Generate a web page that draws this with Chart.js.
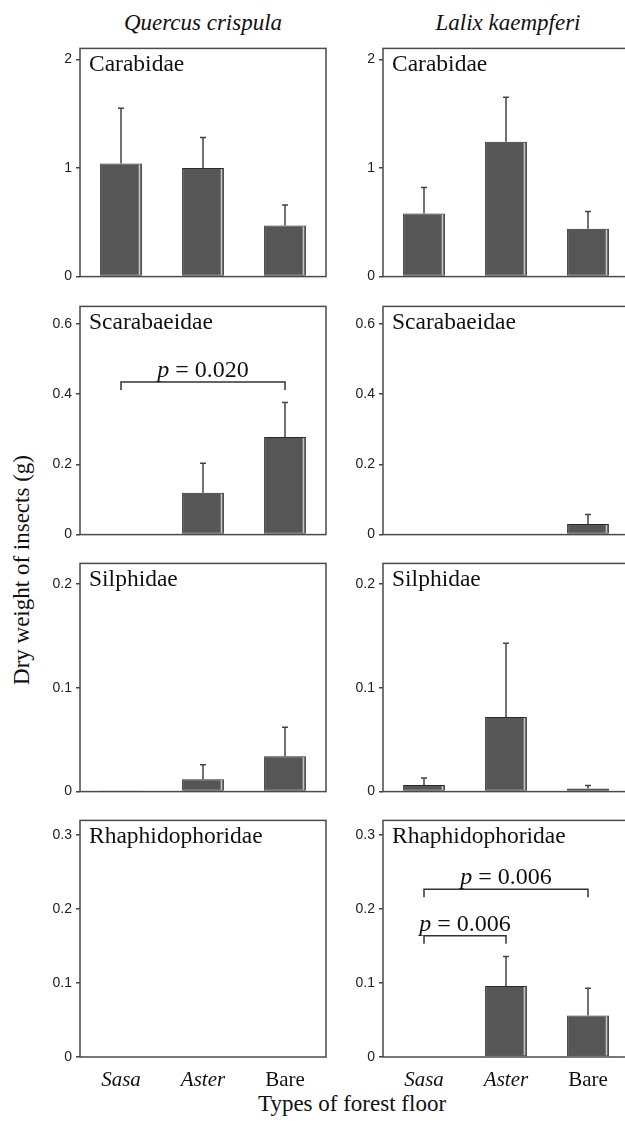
<!DOCTYPE html>
<html>
<head>
<meta charset="utf-8">
<script src="https://cdn.jsdelivr.net/npm/chart.js@4/dist/chart.umd.min.js"></script>
<style>
html, body { margin: 0; padding: 0; background: #fff; overflow: hidden; }
#page { position: relative; width: 625px; height: 1122px; overflow: hidden; }
canvas { position: absolute; }
.txt { position: absolute; font-family: "Liberation Serif", serif; color: #111; white-space: nowrap; text-align: center; font-size: 23px; line-height: 26px; }
</style>
</head>
<body>
<div id="page">
<div class="txt" style="left:53px; width:300px; top:10px; font-style:italic;">Quercus crispula</div>
<div class="txt" style="left:358px; width:300px; top:10px; font-style:italic;">Lalix kaempferi</div>
<div class="txt" style="left:-178px; width:400px; top:557px; transform:rotate(-90deg);">Dry weight of insects (g)</div>
<div class="txt" style="left:202px; width:300px; top:1091px;">Types of forest floor</div>
</div>

<script>
'use strict';

const categories = ['Sasa', 'Aster', 'Bare'];
const families = ['Carabidae', 'Scarabaeidae', 'Silphidae', 'Rhaphidophoridae'];

// mean dry weight (g), one row per family: Sasa, Aster, Bare
const quercusMeans = [
    [1.04, 1.0, 0.47],
    [0, 0.119, 0.278],
    [0.0005, 0.012, 0.034],
    [0, 0, 0]
];
const quercusErrors = [
    [0.51, 0.28, 0.19],
    [0, 0.084, 0.098],
    [0, 0.014, 0.028],
    [0, 0, 0]
];
const lalixMeans = [
    [0.58, 1.24, 0.44],
    [0, 0, 0.03],
    [0.0064, 0.072, 0.003],
    [0, 0.096, 0.056]
];
const lalixErrors = [
    [0.24, 0.41, 0.16],
    [0, 0, 0.027],
    [0.0066, 0.071, 0.003],
    [0, 0.04, 0.037]
];

// y axes
const yMax = [2.1, 0.65, 0.22, 0.32];
const tickValues = [[0, 1, 2], [0, 0.2, 0.4, 0.6], [0, 0.1, 0.2], [0, 0.1, 0.2, 0.3]];
const tickLabels = [['0', '1', '2'], ['0', '0.2', '0.4', '0.6'], ['0', '0.1', '0.2'], ['0', '0.1', '0.2', '0.3']];

// significance brackets (category from/to, height in g, p value)
const quercusBrackets = [[], [{ from: 0, to: 2, y: 0.435, p: '0.020' }], [], []];
const lalixBrackets = [[], [], [], [
    { from: 0, to: 2, y: 0.227, p: '0.006' },
    { from: 0, to: 1, y: 0.164, p: '0.006' }
]];

const SERIF = '"Liberation Serif", "Times New Roman", serif';
const SANS = '"Liberation Sans", Arial, sans-serif';

// layout of the grid
const panelTop = [46, 304, 561, 818];
const panelZero = [285, 543, 800, 1057];
const columns = [
    { left: 0, width: 328, padRight: 2, means: quercusMeans, errors: quercusErrors, brackets: quercusBrackets },
    { left: 303, width: 330, padRight: 4, means: lalixMeans, errors: lalixErrors, brackets: lalixBrackets }
];

/**
 * frame, highlight stripe, error bars, label, brackets
 */
const panelPlugin = {
    id: 'panel',
    afterDatasetsDraw(chart, args, opts) {
        const ctx = chart.ctx;
        const area = chart.chartArea;
        const ys = chart.scales.y;
        const xs = chart.scales.x;
        const meta = chart.getDatasetMeta(0);
        ctx.save();
        meta.data.forEach((bar, i) => {
            const h = bar.base - bar.y;
            if (h > 3) {
                ctx.strokeStyle = '#c4c4c4';
                ctx.lineWidth = 1.5;
                ctx.beginPath();
                ctx.moveTo(bar.x + bar.width / 2 - 2.5, bar.y + 1);
                ctx.lineTo(bar.x + bar.width / 2 - 2.5, bar.base - 1);
                ctx.stroke();
            }
            const err = opts.errors[i];
            if (err > 0) {
                const top = ys.getPixelForValue(opts.means[i] + err);
                ctx.strokeStyle = '#444';
                ctx.lineWidth = 1.5;
                ctx.beginPath();
                ctx.moveTo(bar.x, bar.y);
                ctx.lineTo(bar.x, top);
                ctx.moveTo(bar.x - 3, top);
                ctx.lineTo(bar.x + 3, top);
                ctx.stroke();
            }
        });

        ctx.strokeStyle = '#4a4a4a';
        ctx.lineWidth = 1.5;
        ctx.strokeRect(area.left, area.top, area.right - area.left, area.bottom - area.top);

        ctx.fillStyle = '#111';
        ctx.font = '23.5px ' + SERIF;
        ctx.textBaseline = 'middle';
        ctx.textAlign = 'left';
        ctx.fillText(opts.label, area.left + 9, area.top + 16);

        opts.brackets.forEach(b => {
            const x1 = xs.getPixelForValue(b.from);
            const x2 = xs.getPixelForValue(b.to);
            const yy = ys.getPixelForValue(b.y);
            ctx.strokeStyle = '#333';
            ctx.lineWidth = 1.5;
            ctx.beginPath();
            ctx.moveTo(x1, yy + 8);
            ctx.lineTo(x1, yy);
            ctx.lineTo(x2, yy);
            ctx.lineTo(x2, yy + 8);
            ctx.stroke();

            const italic = 'italic 24px ' + SERIF;
            const normal = '24px ' + SERIF;
            const rest = ' = ' + b.p;
            ctx.font = italic;
            const w1 = ctx.measureText('p').width;
            ctx.font = normal;
            const w2 = ctx.measureText(rest).width;
            const x = (x1 + x2) / 2 - (w1 + w2) / 2;
            ctx.textBaseline = 'alphabetic';
            ctx.font = italic;
            ctx.fillText('p', x, yy - 5);
            ctx.font = normal;
            ctx.fillText(rest, x + w1, yy - 5);
        });
        ctx.restore();
    }
};

const page = document.getElementById('page');

columns.forEach((col, c) => {
    families.forEach((fam, f) => {
        const bottomRow = f === families.length - 1;
        const xHeight = bottomRow ? 40 : 0;
        const padBottom = bottomRow ? 0 : 4;
        const canvas = document.createElement('canvas');
        const w = col.width;
        const h = panelZero[f] - panelTop[f] + 10 + xHeight + padBottom;
        canvas.width = w;
        canvas.height = h;
        canvas.style.width = w + 'px';
        canvas.style.height = h + 'px';
        canvas.style.left = col.left + 'px';
        canvas.style.top = (panelTop[f] - 10) + 'px';
        page.appendChild(canvas);

        new Chart(canvas, {
            type: 'bar',
            data: {
                labels: categories,
                datasets: [{
                    data: col.means[f],
                    backgroundColor: '#565656',
                    borderColor: '#2a2a2a',
                    borderWidth: 1,
                    borderSkipped: false,
                    barPercentage: 0.51,
                    categoryPercentage: 1
                }]
            },
            options: {
                responsive: false,
                animation: false,
                layout: { padding: { top: 10, right: col.padRight, bottom: padBottom, left: 0 } },
                plugins: {
                    legend: { display: false },
                    tooltip: { enabled: false },
                    panel: {
                        label: fam,
                        means: col.means[f],
                        errors: col.errors[f],
                        brackets: col.brackets[f]
                    }
                },
                scales: {
                    x: {
                        display: bottomRow,
                        grid: { display: false },
                        border: { display: false },
                        ticks: {
                            padding: 3,
                            color: '#111',
                            font: (ctx) => ({ family: SERIF, size: 21, style: ctx.index < 2 ? 'italic' : 'normal' })
                        },
                        afterFit: (s) => { s.height = xHeight; }
                    },
                    y: {
                        min: 0,
                        max: yMax[f],
                        afterBuildTicks: (s) => { s.ticks = tickValues[f].map(v => ({ value: v })); },
                        afterFit: (s) => { s.width = 80; },
                        border: { display: false },
                        grid: { drawOnChartArea: false, drawTicks: true, tickLength: 4, color: '#444', lineWidth: 1.5 },
                        ticks: {
                            padding: 4,
                            color: '#222',
                            font: { family: SANS, size: 14 },
                            callback: (v, i) => tickLabels[f][i]
                        }
                    }
                }
            },
            plugins: [panelPlugin]
        });
    });
});
</script>
</body>
</html>
